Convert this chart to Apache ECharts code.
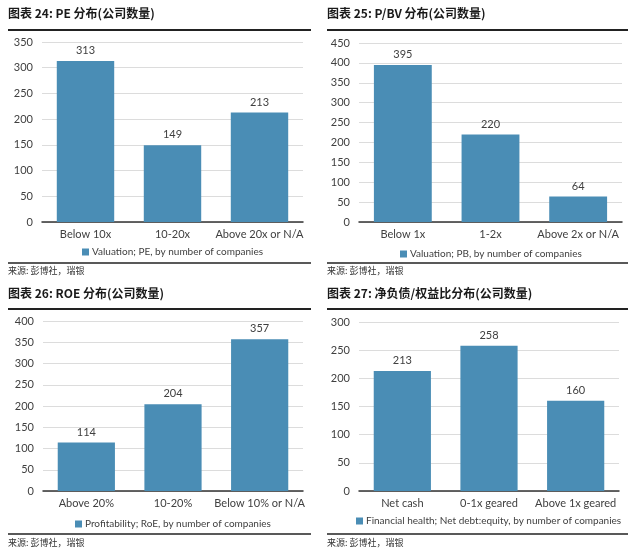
<!DOCTYPE html>
<html>
<head>
<meta charset="utf-8">
<script src="https://cdn.jsdelivr.net/npm/echarts@6/dist/echarts.min.js"></script>
<style>html,body{margin:0;padding:0;background:#fff;}#c{width:640px;height:552px;}</style>
</head>
<body>
<div id="c"></div>
<script>
// ---- data ----
const titles = ['图表 24: PE 分布(公司数量)', '图表 25: P/BV 分布(公司数量)', '图表 26: ROE 分布(公司数量)', '图表 27: 净负债/权益比分布(公司数量)'];
const sourceText = '来源: 彭博社，瑞银';

const peCats = ['Below 10x', '10-20x', 'Above 20x or N/A'];
const peValues = [313, 149, 213];
const peName = 'Valuation; PE, by number of companies';

const pbCats = ['Below 1x', '1-2x', 'Above 2x or N/A'];
const pbValues = [395, 220, 64];
const pbName = 'Valuation; PB, by number of companies';

const roeCats = ['Above 20%', '10-20%', 'Below 10% or N/A'];
const roeValues = [114, 204, 357];
const roeName = 'Profitability; RoE, by number of companies';

const ndCats = ['Net cash', '0-1x geared', 'Above 1x geared'];
const ndValues = [213, 258, 160];
const ndName = 'Financial health; Net debt:equity, by number of companies';

const yMax = [350, 450, 400, 300];
const yInterval = 50;

// ---- layout ----
const FONT = 'Lato, "Noto Sans", "Noto Sans CJK SC", sans-serif';
const FS = 11;
const LFS = 10;
const BAR = '#4a8db5';
const TXT = '#404040';
const panels = [
  {cats: peCats, vals: peValues, name: peName, grid: {left: 42, width: 261, top: 42, height: 180}, x0: 8, x1: 311, ty: 6, rule: 30, legTop: 242, srcRule: 263, srcY: 266},
  {cats: pbCats, vals: pbValues, name: pbName, grid: {left: 359, width: 263, top: 43, height: 179}, x0: 327, x1: 628, ty: 6, rule: 30, legTop: 244, srcRule: 263, srcY: 266},
  {cats: roeCats, vals: roeValues, name: roeName, grid: {left: 43, width: 260, top: 321, height: 170}, x0: 8, x1: 311, ty: 286, rule: 309, legTop: 514, srcRule: 534, srcY: 538},
  {cats: ndCats, vals: ndValues, name: ndName, grid: {left: 359, width: 260, top: 322, height: 169}, x0: 327, x1: 628, ty: 286, rule: 309, legTop: 511, srcRule: 534, srcY: 538}
];

const ctx = document.createElement('canvas').getContext('2d');
ctx.font = LFS + 'px ' + FONT;

const grids = [], xAxes = [], yAxes = [], series = [], legends = [], graphics = [];
panels.forEach((p, i) => {
  grids.push(Object.assign({containLabel: false}, p.grid));
  xAxes.push({
    type: 'category', gridIndex: i, data: p.cats,
    axisLine: {lineStyle: {color: '#333', width: 1.5}},
    axisTick: {show: false},
    axisLabel: {color: TXT, fontSize: FS, fontFamily: FONT, margin: 7, interval: 0}
  });
  yAxes.push({
    type: 'value', gridIndex: i, min: 0, max: yMax[i], interval: yInterval,
    axisLine: {show: false}, axisTick: {show: false},
    axisLabel: {color: TXT, fontSize: FS, fontFamily: FONT, margin: 9},
    splitLine: {lineStyle: {color: '#dcdcdc', width: 1}}
  });
  series.push({
    type: 'bar', name: p.name, xAxisIndex: i, yAxisIndex: i, data: p.vals,
    barCategoryGap: '34%', itemStyle: {color: BAR},
    label: {show: true, position: 'top', distance: 5, color: TXT, fontSize: FS, fontFamily: FONT}
  });
  const w = ctx.measureText(p.name).width + 7 + 3;
  legends.push({
    data: [p.name], top: p.legTop, left: Math.round(p.grid.left + p.grid.width / 2 - w / 2) - 5,
    itemWidth: 7, itemHeight: 7, icon: 'rect', itemGap: 3,
    textStyle: {color: TXT, fontSize: LFS, fontFamily: FONT, padding: [0, 0, 0, -2]},
    selectedMode: false
  });
  graphics.push({type: 'text', left: p.x0, top: p.ty + 1, style: {text: titles[i], font: 'bold 12px "Noto Sans CJK SC", sans-serif', fill: '#1a1a1a'}});
  graphics.push({type: 'line', shape: {x1: p.x0, y1: p.rule, x2: p.x1, y2: p.rule}, style: {stroke: '#222', lineWidth: 2}});
  graphics.push({type: 'line', shape: {x1: p.x0, y1: p.srcRule, x2: p.x1, y2: p.srcRule}, style: {stroke: '#222', lineWidth: 1.5}});
  graphics.push({type: 'text', left: p.x0, top: p.srcY, style: {text: sourceText, font: '9px "Noto Sans CJK SC", serif', fill: '#333'}});
});

const chart = echarts.init(document.getElementById('c'), null, {renderer: 'canvas'});
chart.setOption({
  animation: false,
  backgroundColor: '#fff',
  grid: grids, xAxis: xAxes, yAxis: yAxes, series: series, legend: legends, graphic: graphics
});
</script>
</body>
</html>
